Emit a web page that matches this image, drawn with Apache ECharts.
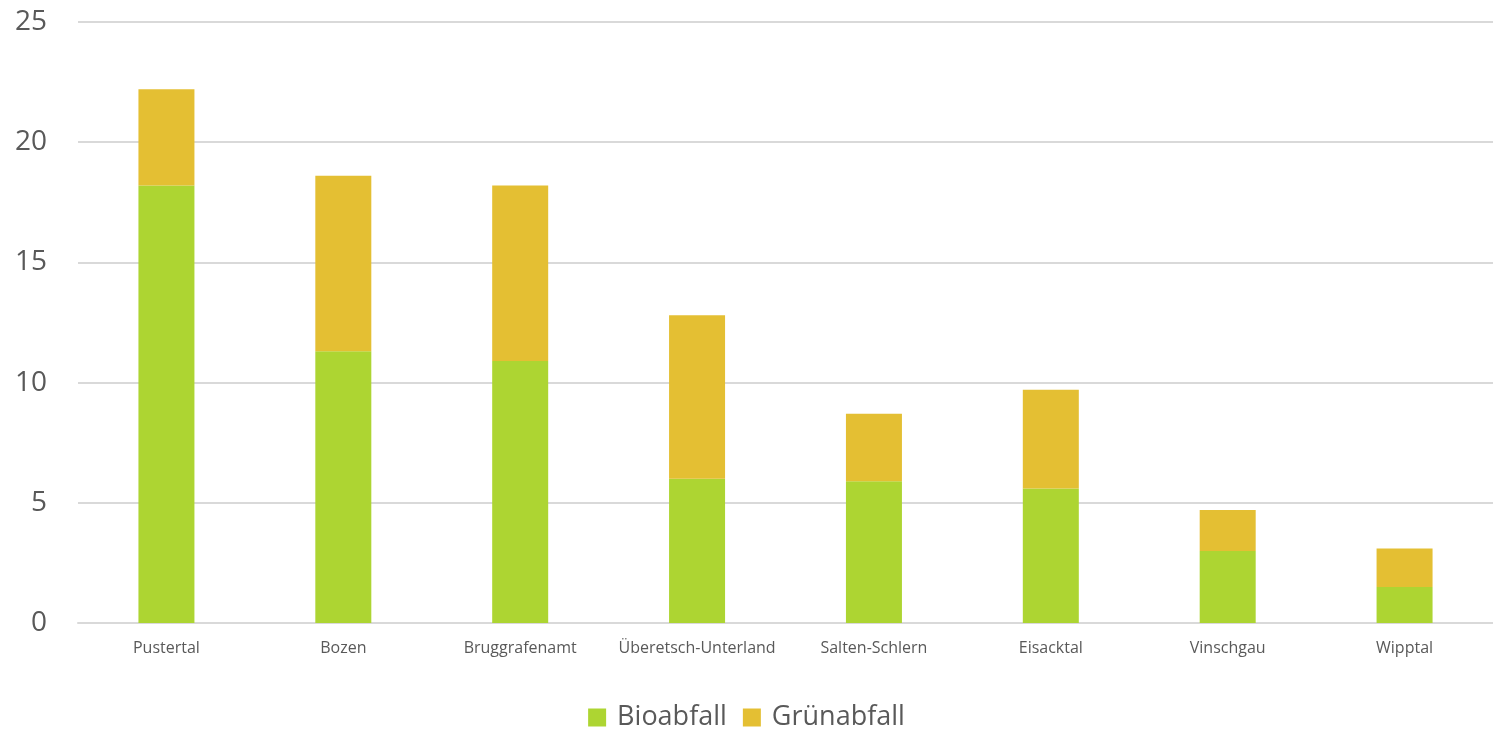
<!DOCTYPE html>
<html><head><meta charset="utf-8">
<script src="https://cdn.jsdelivr.net/npm/echarts@6/dist/echarts.min.js"></script>
<style>html,body{margin:0;padding:0;background:#fff}#c{width:1493px;height:730px}</style>
</head><body><div id="c"></div>
<script>
const categories = ['Pustertal','Bozen','Bruggrafenamt','Überetsch-Unterland','Salten-Schlern','Eisacktal','Vinschgau','Wipptal'];
const bioabfall = [18.2, 11.3, 10.9, 6.0, 5.9, 5.6, 3.0, 1.5];
const gruenabfall = [4.0, 7.3, 7.3, 6.8, 2.8, 4.1, 1.7, 1.6];
const seriesNames = ['Bioabfall','Grünabfall'];
const font = '"Open Sans", sans-serif';
const chart = echarts.init(document.getElementById('c'));
chart.setOption({
  animation:false,
  color:['#ADD532','#E4BF33'],
  grid:{left:78,right:-5,top:22,bottom:107},
  legend:{bottom:-6,left:'center',itemWidth:18,itemHeight:18,itemGap:16,icon:'rect',
    textStyle:{fontFamily:font,fontSize:27,color:'#595959',padding:[0,0,0,6]},data:seriesNames},
  xAxis:{type:'category',data:categories,
    axisLine:{lineStyle:{color:'#D9D9D9',width:2}},axisTick:{show:false},
    axisLabel:{interval:0,fontFamily:font,fontSize:16,color:'#595959',margin:17}},
  yAxis:{type:'value',min:0,max:25,interval:5,
    axisLine:{show:false},axisTick:{show:false},
    splitLine:{lineStyle:{color:'#D9D9D9',width:2}},
    axisLabel:{fontFamily:font,fontSize:28,color:'#595959',margin:31}},
  series:[
    {name:seriesNames[0],type:'bar',stack:'a',data:bioabfall,barWidth:56},
    {name:seriesNames[1],type:'bar',stack:'a',data:gruenabfall,barWidth:56}
  ]
});
</script></body></html>
